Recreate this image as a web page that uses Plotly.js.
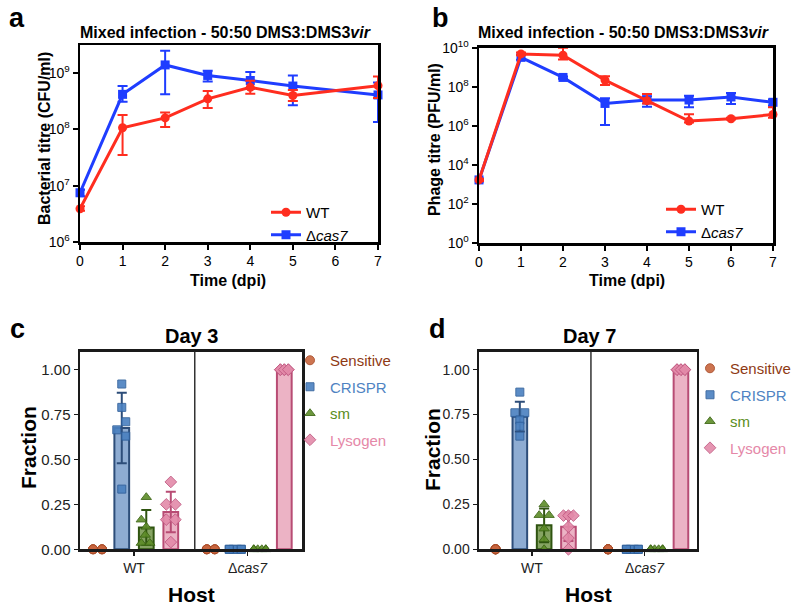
<!DOCTYPE html>
<html><head><meta charset="utf-8">
<script src="https://cdn.plot.ly/plotly-3.0.1.min.js"></script>
<style>body{margin:0;background:#fff}#chart{width:800px;height:610px}</style>
</head><body><div id="chart"></div>
<script>
// ---------- Panel a: bacterial titre ----------
const bactDays = [0, 1, 2, 3, 4, 5, 7];
const bactWT   = [3.9e6, 1.07e8, 1.6e8, 3.5e8, 5.6e8, 4.0e8, 6.0e8];
const bactWTHi = [4.3e6, 1.8e8, 2.0e8, 4.8e8, 7.3e8, 5.0e8, 8.7e8];
const bactWTLo = [3.6e6, 3.5e7, 1.1e8, 2.4e8, 4.3e8, 3.2e8, 3.6e8];
const bactCas   = [7.5e6, 4.2e8, 1.4e9, 9.1e8, 7.4e8, 5.9e8, 4.1e8];
const bactCasHi = [8.5e6, 5.9e8, 2.5e9, 1.1e9, 1.05e9, 9.1e8, 6.8e8];
const bactCasLo = [6.5e6, 3.1e8, 4.2e8, 7.1e8, 5.3e8, 2.7e8, 1.35e8];
const bactTicks = [1e6, 1e7, 1e8, 1e9];
const bactTickText = ['10<sup>6</sup>', '10<sup>7</sup>', '10<sup>8</sup>', '10<sup>9</sup>'];

// ---------- Panel b: phage titre ----------
const phageDays = [0, 1, 2, 3, 4, 5, 6, 7];
const phageWT   = [1.7e3, 4.8e9, 4.1e9, 2.2e8, 1.95e7, 1.75e6, 2.3e6, 3.8e6];
const phageWTHi = [1.9e3, 5.6e9, 9.9e9, 3.5e8, 4.2e7, 3.9e6, 2.6e6, 8.9e6];
const phageWTLo = [1.5e3, 4.1e9, 2.5e9, 1.23e8, 1.4e7, 1.5e6, 2.1e6, 2.6e6];
const phageCas   = [1.7e3, 3.2e9, 3.0e8, 1.4e7, 2.1e7, 2.1e7, 3.0e7, 1.6e7];
const phageCasHi = [2.0e3, 4.2e9, 3.4e8, 2.6e7, 3.3e7, 3.5e7, 4.8e7, 2.2e7];
const phageCasLo = [1.4e3, 2.4e9, 2.6e8, 1.1e6, 9.5e6, 8.9e6, 1.3e7, 1.1e7];
const phageTicks = [1e0, 1e2, 1e4, 1e6, 1e8, 1e10];
const phageTickText = ['10<sup>0</sup>', '10<sup>2</sup>', '10<sup>4</sup>', '10<sup>6</sup>', '10<sup>8</sup>', '10<sup>10</sup>'];

// ---------- Panels c & d: population fractions ----------
const hosts = ['WT', 'Δ<i>cas7</i>'];
const groups = ['Sensitive', 'CRISPR', 'sm', 'Lysogen'];
// Day 3 replicate fractions
const d3SensWT   = [0, 0, 0, 0, 0, 0];
const d3CrisprWT = [0.92, 0.79, 0.71, 0.665, 0.63, 0.335];
const d3SmWT     = [0.29, 0.165, 0.125, 0.08, 0.035, 0.035];
const d3LysoWT   = [0.375, 0.25, 0.25, 0.165, 0.165, 0.04];
const d3SensCas   = [0, 0, 0, 0, 0, 0];
const d3CrisprCas = [0, 0, 0, 0, 0, 0];
const d3SmCas     = [0, 0, 0, 0, 0, 0];
const d3LysoCas   = [1, 1, 1, 1, 1, 1];
// Day 7 replicate fractions
const d7SensWT   = [0, 0, 0, 0, 0, 0];
const d7CrisprWT = [0.875, 0.76, 0.76, 0.72, 0.685, 0.63];
const d7SmWT     = [0.25, 0.19, 0.19, 0.115, 0.055, 0];
const d7LysoWT   = [0.1875, 0.1875, 0.1875, 0.125, 0.0625, 0];
const d7SensCas   = [0, 0, 0, 0, 0, 0];
const d7CrisprCas = [0, 0, 0, 0, 0, 0];
const d7SmCas     = [0, 0, 0, 0, 0, 0];
const d7LysoCas   = [1, 1, 1, 1, 1, 1];
// horizontal jitter of the replicate points (category units)
const jit3SensWT   = [-0.037, -0.037, -0.037, 0.042, 0.042, 0.042];
const jit3CrisprWT = [0, 0, 0.035, -0.044, 0.035, 0];
const jit3SmWT     = [0, -0.044, 0, -0.009, -0.044, 0.031];
const jit3LysoWT   = [0, -0.04, 0.04, -0.04, 0.04, 0];
const jit3SensCas  = [-0.035, -0.035, -0.035, 0.035, 0.035, 0.035];
const jit3Zero     = [-0.053, -0.018, 0.018, 0.053, -0.053, 0.053];
const jit3LysoCas  = [-0.035, 0, 0.035, -0.035, 0, 0.035];
const jit7SensWT   = [0, 0, 0, 0, 0, 0];
const jit7CrisprWT = [0, -0.044, 0.044, 0, 0, 0];
const jit7SmWT     = [0, -0.044, 0.044, 0, 0, 0];
const jit7LysoWT   = [-0.044, 0, 0.044, 0, 0, 0];
const jit7Zero     = [-0.053, -0.018, 0.018, 0.053, -0.053, 0.053];
const jit7LysoCas  = [-0.035, 0, 0.035, -0.035, 0, 0.035];

// ---------- styles ----------
const FONT = 'Liberation Sans, Arial, sans-serif';
const RED = '#ff2d1f', BLUE = '#1f3dff';
const grpStyle = {
  Sensitive: {pt: '#c8653e', ptLine: '#a84a26', bar: 'rgba(0,0,0,0)', barLine: 'rgba(0,0,0,0)', txt: '#8e3a14', sym: 'circle', size: 9},
  CRISPR:    {pt: '#4a80c0', ptLine: '#2f5f9a', bar: '#8eacd2', barLine: '#2d4d79', txt: '#4f83c2', sym: 'square', size: 8},
  sm:        {pt: '#5d8c28', ptLine: '#3b6512', bar: '#86a463', barLine: '#2f5410', txt: '#5b8e22', sym: 'triangle-up', size: 9},
  Lysogen:   {pt: '#e38aa9', ptLine: '#c25a83', bar: '#ecb3c5', barLine: '#b84c74', txt: '#e588a8', sym: 'diamond', size: 9}
};
const SLOT = 0.216, BARW = 0.13;

function mean(a) { return a.reduce((s, v) => s + v, 0) / a.length; }
function sd(a) { const m = mean(a); return Math.sqrt(a.reduce((s, v) => s + (v - m) * (v - m), 0) / (a.length - 1)); }
function diff(a, b) { return a.map((v, i) => v - b[i]); }

const traces = [];

// line panels
function linePanel(xa, ya, leg, xs, wt, wtHi, wtLo, cas, casHi, casLo) {
  traces.push({
    type: 'scatter', mode: 'lines+markers', x: xs, y: cas, name: 'Δ<i>cas7</i>',
    xaxis: xa, yaxis: ya, legend: leg, cliponaxis: false,
    line: {color: BLUE, width: 3}, marker: {symbol: 'square', size: 9, color: BLUE},
    error_y: {type: 'data', array: diff(casHi, cas), arrayminus: diff(cas, casLo), color: BLUE, thickness: 2, width: 5}
  });
  traces.push({
    type: 'scatter', mode: 'lines+markers', x: xs, y: wt, name: 'WT',
    xaxis: xa, yaxis: ya, legend: leg, cliponaxis: false,
    line: {color: RED, width: 3}, marker: {symbol: 'circle', size: 9, color: RED},
    error_y: {type: 'data', array: diff(wtHi, wt), arrayminus: diff(wt, wtLo), color: RED, thickness: 2, width: 5}
  });
}
linePanel('x', 'y', 'legend', bactDays, bactWT, bactWTHi, bactWTLo, bactCas, bactCasHi, bactCasLo);
linePanel('x2', 'y2', 'legend2', phageDays, phageWT, phageWTHi, phageWTLo, phageCas, phageCasHi, phageCasLo);

// bar + point panels
function fracPanel(xa, ya, leg, data, jit) {
  groups.forEach((g, gi) => {
    const st = grpStyle[g];
    const off = (gi - 1.5) * SLOT;
    const wtVals = data[g][0], casVals = data[g][1];
    traces.push({
      type: 'bar', x: [1 + off, 2 + off], y: [mean(wtVals), mean(casVals)], width: BARW,
      xaxis: xa, yaxis: ya, showlegend: false, cliponaxis: false,
      marker: {color: st.bar, line: {color: st.barLine, width: 2}},
      error_y: {type: 'data', array: [sd(wtVals), sd(casVals)], color: st.barLine, thickness: 2, width: 5, visible: g !== 'Sensitive'}
    });
  });
  groups.forEach((g, gi) => {
    const st = grpStyle[g];
    const off = (gi - 1.5) * SLOT;
    const wtVals = data[g][0], casVals = data[g][1];
    const xs = wtVals.map((v, i) => 1 + off + jit[g][0][i]).concat(casVals.map((v, i) => 2 + off + jit[g][1][i]));
    traces.push({
      type: 'scatter', mode: 'markers', x: xs, y: wtVals.concat(casVals),
      name: '<span style="color:' + st.txt + '">' + g + '</span>',
      xaxis: xa, yaxis: ya, legend: leg, legendgroup: leg + g, cliponaxis: false,
      marker: {symbol: st.sym, size: st.size, color: st.pt, opacity: 0.9, line: {color: st.ptLine, width: 1}}
    });
  });
}
fracPanel('x3', 'y3', 'legend3', {
  Sensitive: [d3SensWT, d3SensCas], CRISPR: [d3CrisprWT, d3CrisprCas], sm: [d3SmWT, d3SmCas], Lysogen: [d3LysoWT, d3LysoCas]
}, {
  Sensitive: [jit3SensWT, jit3SensCas], CRISPR: [jit3CrisprWT, jit3Zero], sm: [jit3SmWT, jit3Zero], Lysogen: [jit3LysoWT, jit3LysoCas]
});
fracPanel('x4', 'y4', 'legend4', {
  Sensitive: [d7SensWT, d7SensCas], CRISPR: [d7CrisprWT, d7CrisprCas], sm: [d7SmWT, d7SmCas], Lysogen: [d7LysoWT, d7LysoCas]
}, {
  Sensitive: [jit7SensWT, jit7SensWT], CRISPR: [jit7CrisprWT, jit7Zero], sm: [jit7SmWT, jit7Zero], Lysogen: [jit7LysoWT, jit7LysoCas]
});

// ---------- layout ----------
const W = 800, H = 610;
const px = v => v / W, py = v => 1 - v / H;
function frameAxis(extra) {
  return Object.assign({
    showline: true, mirror: true, linecolor: '#000', linewidth: 2.5,
    showgrid: false, zeroline: false, ticks: 'outside', ticklen: 5, tickwidth: 2, tickcolor: '#000',
    tickfont: {family: FONT, size: 14, color: '#000'}, fixedrange: true
  }, extra);
}
function fracAxis(extra) {
  return Object.assign({
    showline: true, mirror: true, linecolor: '#1a1a1a', linewidth: 2.5,
    showgrid: false, zeroline: false, ticks: 'outside', ticklen: 4, tickwidth: 1.5, tickcolor: '#1a1a1a',
    tickfont: {family: FONT, size: 15, color: '#222'}
  }, extra);
}
function ann(text, x, y, size, extra) {
  return Object.assign({text: text, x: px(x), y: py(y), xref: 'paper', yref: 'paper', showarrow: false,
    xanchor: 'center', yanchor: 'middle', font: {family: FONT, size: size, color: '#000', weight: 'bold'}}, extra || {});
}
function legendAt(x, y, size, extra) {
  return Object.assign({x: px(x), y: py(y), xref: 'paper', yref: 'paper', xanchor: 'left', yanchor: 'top',
    bgcolor: 'rgba(0,0,0,0)', borderwidth: 0, font: {family: FONT, size: size, color: '#000'}}, extra || {});
}
const titleText = 'Mixed infection - 50:50 DMS3:DMS3<i>vir</i>';
const layout = {
  width: W, height: H, margin: {l: 0, r: 0, t: 0, b: 0},
  paper_bgcolor: '#fff', plot_bgcolor: '#fff', font: {family: FONT},
  barmode: 'overlay',
  xaxis: frameAxis({domain: [px(80), px(378)], range: [0, 7], tickvals: [0, 1, 2, 3, 4, 5, 6, 7], anchor: 'y'}),
  yaxis: frameAxis({domain: [py(242), py(45)], type: 'log', range: [6, 9.5], tickvals: bactTicks, ticktext: bactTickText, anchor: 'x'}),
  xaxis2: frameAxis({domain: [px(479), px(773)], range: [0, 7], tickvals: [0, 1, 2, 3, 4, 5, 6, 7], anchor: 'y2'}),
  yaxis2: frameAxis({domain: [py(243), py(47.7)], type: 'log', range: [0, 10], tickvals: phageTicks, ticktext: phageTickText, anchor: 'x2'}),
  xaxis3: fracAxis({domain: [px(80), px(302)], range: [0.524, 2.48], tickvals: [1, 2], ticktext: hosts, anchor: 'y3',
    tickfont: {family: FONT, size: 14, color: '#222'}}),
  yaxis3: fracAxis({domain: [py(549.3), py(351.7)], range: [0, 1.1], tickvals: [0, 0.25, 0.5, 0.75, 1], tickformat: '.2f', anchor: 'x3'}),
  xaxis4: fracAxis({domain: [px(479), px(696.7)], range: [0.529, 2.464], tickvals: [1, 2], ticktext: hosts, anchor: 'y4',
    tickfont: {family: FONT, size: 14, color: '#222'}}),
  yaxis4: fracAxis({domain: [py(549.3), py(351.7)], range: [0, 1.1], tickvals: [0, 0.25, 0.5, 0.75, 1], tickformat: '.2f', anchor: 'x4',
    tickfont: {family: FONT, size: 14, color: '#222'}}),
  legend: legendAt(266, 196, 15, {traceorder: 'reversed'}),
  legend2: legendAt(661, 193, 15, {traceorder: 'reversed'}),
  legend3: legendAt(290, 344, 15, {tracegroupgap: 4}),
  legend4: legendAt(690, 352, 15, {tracegroupgap: 4}),
  shapes: [
    {type: 'line', xref: 'x3', yref: 'y3 domain', x0: 1.535, x1: 1.535, y0: 0, y1: 1, line: {color: '#333', width: 1.5}},
    {type: 'line', xref: 'x4', yref: 'y4 domain', x0: 1.524, x1: 1.524, y0: 0, y1: 1, line: {color: '#333', width: 1.5}}
  ],
  annotations: [
    ann('a', 17, 1, 27, {yanchor: 'top'}), ann('b', 440, 1, 27, {yanchor: 'top'}),
    ann('c', 17, 312, 27, {yanchor: 'top'}), ann('d', 437, 312, 27, {yanchor: 'top'}),
    ann(titleText, 226, 33, 16), ann(titleText, 623, 33, 16),
    ann('Bacterial titre (CFU/ml)', 44, 139, 16, {textangle: -90}),
    ann('Phage titre (PFU/ml)', 434, 140, 16, {textangle: -90}),
    ann('Time (dpi)', 228, 280, 16), ann('Time (dpi)', 627, 280, 16),
    ann('Day 3', 191, 336, 20), ann('Day 7', 589, 336, 20),
    ann('Fraction', 28, 448, 21, {textangle: -90}), ann('Fraction', 432, 450, 21, {textangle: -90}),
    ann('Host', 191, 594, 21), ann('Host', 588, 594, 21)
  ]
};
Plotly.newPlot('chart', traces, layout, {staticPlot: true, displayModeBar: false});
</script>
</body></html>
